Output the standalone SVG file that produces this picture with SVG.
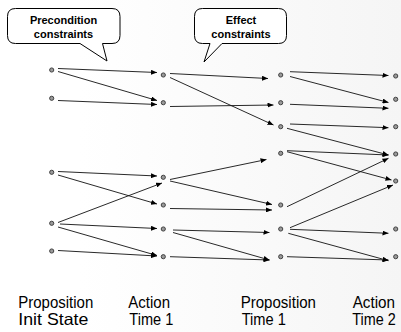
<svg xmlns="http://www.w3.org/2000/svg" width="401" height="332" viewBox="0 0 401 332">
  <defs>
    <linearGradient id="bg" x1="0" y1="0" x2="1" y2="0">
      <stop offset="0" stop-color="#ffffff"/>
      <stop offset="0.2" stop-color="#ffffff"/>
      <stop offset="1" stop-color="#f5f5f5"/>
    </linearGradient>
    <marker id="arrow" markerUnits="userSpaceOnUse" markerWidth="6" markerHeight="5" refX="6" refY="2.5" orient="auto">
      <path d="M0,0 L6,2.5 L0,5 z" fill="#000"/>
    </marker>
    <style>
      .node { fill: #9a9a9a; stroke: #333; stroke-width: 0.9; }
      .edge { stroke: #111; stroke-width: 0.9; fill: none; marker-end: url(#arrow); }
      .callout { fill: #fff; stroke: #000; stroke-width: 1; }
      .ctext { font-family: "Liberation Sans", Arial, sans-serif; font-weight: bold; font-size: 11px; fill: #000; text-anchor: middle; }
      .label { font-family: "Liberation Sans", Arial, sans-serif; font-size: 16.5px; fill: #000; }
    </style>
  </defs>

  <rect width="401" height="332" fill="url(#bg)"/>

  <!-- speech bubbles -->
  <g id="precondition-callout">
    <path class="callout" d="M15.5,8.5 H112 Q120,8.5 120,16.5 V35.5 Q120,43.5 112,43.5 H102.5 L107,61 L80,43.5 H15.5 Q7.5,43.5 7.5,35.5 V16.5 Q7.5,8.5 15.5,8.5 Z"/>
    <text class="ctext" x="63.5" y="23.5">Precondition</text>
    <text class="ctext" x="63.5" y="37.5">constraints</text>
  </g>
  <g id="effect-callout">
    <path class="callout" d="M202.5,8.5 H278.5 Q286.5,8.5 286.5,16.5 V35.5 Q286.5,43.5 278.5,43.5 H222 L204,62 L210,43.5 H202.5 Q194.5,43.5 194.5,35.5 V16.5 Q194.5,8.5 202.5,8.5 Z"/>
    <text class="ctext" x="241" y="23.5">Effect</text>
    <text class="ctext" x="241" y="37.5">constraints</text>
  </g>

  <!-- links between layers -->
  <g id="connectors">
    <!-- init propositions to actions, time 1 -->
    <line class="edge" x1="58" y1="68.5" x2="157" y2="72.5"/>
    <line class="edge" x1="58" y1="71.5" x2="157" y2="100.5"/>
    <line class="edge" x1="58" y1="100.5" x2="157" y2="104.5"/>
    <line class="edge" x1="58" y1="171.5" x2="157" y2="176"/>
    <line class="edge" x1="58" y1="175" x2="157" y2="204"/>
    <line class="edge" x1="58" y1="222.5" x2="162" y2="183"/>
    <line class="edge" x1="60" y1="224" x2="157" y2="228.5"/>
    <line class="edge" x1="58" y1="227" x2="157" y2="255.5"/>
    <line class="edge" x1="58" y1="250.5" x2="157" y2="256"/>
    <!-- actions time 1 to propositions time 1 -->
    <line class="edge" x1="170" y1="73.5" x2="268" y2="78.5"/>
    <line class="edge" x1="170" y1="77.5" x2="273.5" y2="125"/>
    <line class="edge" x1="170" y1="106.5" x2="273.5" y2="105"/>
    <line class="edge" x1="170" y1="179.5" x2="266.5" y2="159.5"/>
    <line class="edge" x1="170" y1="181" x2="272" y2="204.5"/>
    <line class="edge" x1="170" y1="208.5" x2="272" y2="210"/>
    <line class="edge" x1="173" y1="230" x2="269.5" y2="232.5"/>
    <line class="edge" x1="173" y1="232.5" x2="269.5" y2="260"/>
    <line class="edge" x1="170" y1="256.7" x2="269.5" y2="260"/>
    <!-- propositions time 1 to actions time 2 -->
    <line class="edge" x1="290" y1="71.7" x2="388.5" y2="75.5"/>
    <line class="edge" x1="290" y1="76.5" x2="388.5" y2="102.5"/>
    <line class="edge" x1="290" y1="104.3" x2="388.5" y2="108.3"/>
    <line class="edge" x1="290" y1="124" x2="388.5" y2="127.7"/>
    <line class="edge" x1="287" y1="128.3" x2="388.5" y2="155"/>
    <line class="edge" x1="287" y1="150.7" x2="388.5" y2="155"/>
    <line class="edge" x1="287" y1="151.7" x2="391.5" y2="180"/>
    <line class="edge" x1="287" y1="206.7" x2="388.5" y2="158.3"/>
    <line class="edge" x1="290" y1="227.7" x2="393" y2="185"/>
    <line class="edge" x1="290" y1="229.3" x2="388.5" y2="233.3"/>
    <line class="edge" x1="288.3" y1="233.3" x2="388.5" y2="260.7"/>
    <line class="edge" x1="287" y1="256.7" x2="388.5" y2="260"/>
  </g>

  <!-- proposition layer, init state -->
  <g id="p0-1"><circle class="node" cx="51.7" cy="70" r="2.1"/></g>
  <g id="p0-2"><circle class="node" cx="51.7" cy="98.3" r="2.1"/></g>
  <g id="p0-3"><circle class="node" cx="51.7" cy="172.3" r="2.1"/></g>
  <g id="p0-4"><circle class="node" cx="51.7" cy="223.3" r="2.1"/></g>
  <g id="p0-5"><circle class="node" cx="51.7" cy="251" r="2.1"/></g>

  <!-- action layer, time 1 -->
  <g id="a1-1"><circle class="node" cx="163.3" cy="75" r="2.1"/></g>
  <g id="a1-2"><circle class="node" cx="163.3" cy="102.7" r="2.1"/></g>
  <g id="a1-3"><circle class="node" cx="163.3" cy="177.3" r="2.1"/></g>
  <g id="a1-4"><circle class="node" cx="163.3" cy="205" r="2.1"/></g>
  <g id="a1-5"><circle class="node" cx="163.3" cy="229" r="2.1"/></g>
  <g id="a1-6"><circle class="node" cx="163.3" cy="256.7" r="2.1"/></g>

  <!-- proposition layer, time 1 -->
  <g id="p1-1"><circle class="node" cx="280.7" cy="75" r="2.1"/></g>
  <g id="p1-2"><circle class="node" cx="280.7" cy="102.7" r="2.1"/></g>
  <g id="p1-3"><circle class="node" cx="280.7" cy="126.7" r="2.1"/></g>
  <g id="p1-4"><circle class="node" cx="280.7" cy="153.3" r="2.1"/></g>
  <g id="p1-5"><circle class="node" cx="280.7" cy="205" r="2.1"/></g>
  <g id="p1-6"><circle class="node" cx="280.7" cy="229" r="2.1"/></g>
  <g id="p1-7"><circle class="node" cx="280.7" cy="256.7" r="2.1"/></g>

  <!-- action layer, time 2 -->
  <g id="a2-1"><circle class="node" cx="395.7" cy="76" r="2.1"/></g>
  <g id="a2-2"><circle class="node" cx="395.7" cy="99.3" r="2.1"/></g>
  <g id="a2-3"><circle class="node" cx="395.7" cy="126.7" r="2.1"/></g>
  <g id="a2-4"><circle class="node" cx="395.7" cy="154" r="2.1"/></g>
  <g id="a2-5"><circle class="node" cx="395.7" cy="181" r="2.1"/></g>
  <g id="a2-6"><circle class="node" cx="395.7" cy="229" r="2.1"/></g>
  <g id="a2-7"><circle class="node" cx="395.7" cy="256.7" r="2.1"/></g>

  <!-- layer captions -->
  <g id="captions">
    <text class="label" x="18.3" y="307.5" textLength="75" lengthAdjust="spacingAndGlyphs">Proposition</text>
    <text class="label" x="18.3" y="325" textLength="70" lengthAdjust="spacingAndGlyphs">Init State</text>
    <text class="label" x="128.3" y="307.5" textLength="41.7" lengthAdjust="spacingAndGlyphs">Action</text>
    <text class="label" x="129.3" y="325" textLength="44" lengthAdjust="spacingAndGlyphs">Time 1</text>
    <text class="label" x="240.7" y="307.5" textLength="75.3" lengthAdjust="spacingAndGlyphs">Proposition</text>
    <text class="label" x="241.7" y="325" textLength="44.3" lengthAdjust="spacingAndGlyphs">Time 1</text>
    <text class="label" x="352.7" y="307.5" textLength="42.3" lengthAdjust="spacingAndGlyphs">Action</text>
    <text class="label" x="352.2" y="325" textLength="43.5" lengthAdjust="spacingAndGlyphs">Time 2</text>
  </g>
</svg>
